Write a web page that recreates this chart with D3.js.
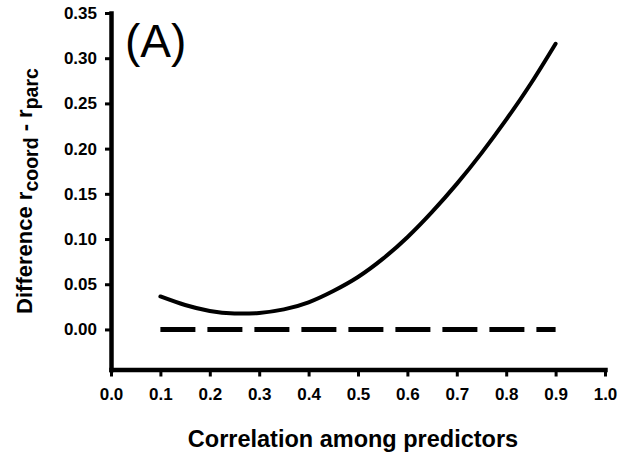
<!DOCTYPE html>
<html>
<head>
<meta charset="utf-8">
<script src="https://cdn.jsdelivr.net/npm/d3@7"></script>
<style>
  body { margin: 0; background: #fff; }
  svg { display: block; }
  text { font-family: "Liberation Sans", Arial, Helvetica, sans-serif; }
</style>
</head>
<body>
<svg id="chart" width="619" height="457"></svg>
<script>
// ---- data ----
const xValues = [0.10, 0.15, 0.20, 0.25, 0.30, 0.35, 0.40, 0.45, 0.50, 0.55, 0.60, 0.65, 0.70, 0.75, 0.80, 0.85, 0.90];
const diffValues = [0.0365, 0.027, 0.0205, 0.0177, 0.0183, 0.0222, 0.030, 0.0425, 0.058, 0.078, 0.102, 0.130, 0.161, 0.195, 0.232, 0.272, 0.316];
const refX = [0.1, 0.9];
const refValues = [0, 0];
const xTicks = [0.0, 0.1, 0.2, 0.3, 0.4, 0.5, 0.6, 0.7, 0.8, 0.9, 1.0];
const yTicks = [0.00, 0.05, 0.10, 0.15, 0.20, 0.25, 0.30, 0.35];

const svg = d3.select("#chart");

const x = d3.scaleLinear().domain([0, 1]).range([111, 605]);
const y = d3.scaleLinear().domain([-0.0443, 0.35]).range([369.5, 13]);

// X axis
const xAxis = svg.append("g")
  .attr("transform", `translate(0,${y(-0.0443)})`)
  .call(d3.axisBottom(x).tickValues(xTicks).tickFormat(d3.format(".1f")).tickSize(7).tickSizeOuter(0).tickPadding(11));
// Y axis
const yAxis = svg.append("g")
  .attr("transform", `translate(${x(0)},0)`)
  .call(d3.axisLeft(y).tickValues(yTicks).tickFormat(d3.format(".2f")).tickSize(6).tickSizeOuter(0).tickPadding(8));

[xAxis, yAxis].forEach(g => {
  g.select(".domain").attr("stroke", "#000").attr("stroke-width", 4.5).attr("stroke-linecap", "square");
  g.selectAll(".tick line").attr("stroke", "#000").attr("stroke-width", 3);
  g.selectAll(".tick text")
    .attr("fill", "#000")
    .style("font-size", "17px")
    .style("font-weight", "bold")
    .style("font-family", "'Liberation Sans', Arial, Helvetica, sans-serif");
});

// Dashed reference line
svg.append("path")
  .datum(refX.map((d, i) => [d, refValues[i]]))
  .attr("fill", "none")
  .attr("stroke", "#000")
  .attr("stroke-width", 5)
  .attr("stroke-dasharray", "35 12")
  .attr("d", d3.line().x(d => x(d[0])).y(d => y(d[1])));

// Solid curve
svg.append("path")
  .datum(xValues.map((d, i) => [d, diffValues[i]]))
  .attr("fill", "none")
  .attr("stroke", "#000")
  .attr("stroke-width", 4)
  .attr("stroke-linecap", "round")
  .attr("d", d3.line().curve(d3.curveNatural).x(d => x(d[0])).y(d => y(d[1])));

// Panel label
svg.append("text")
  .attr("x", 125)
  .attr("y", 57)
  .style("font-size", "46px")
  .style("font-weight", "normal")
  .attr("fill", "#000")
  .text("(A)");

// X title
svg.append("text")
  .attr("x", 353)
  .attr("y", 447)
  .attr("text-anchor", "middle")
  .style("font-size", "23.5px")
  .style("font-weight", "bold")
  .attr("fill", "#000")
  .text("Correlation among predictors");

// Y title
const yt = svg.append("text")
  .attr("transform", "translate(32,191) rotate(-90)")
  .attr("text-anchor", "middle")
  .style("font-size", "22px")
  .style("font-weight", "bold")
  .attr("fill", "#000");
yt.append("tspan").text("Difference r");
yt.append("tspan").attr("dy", 6).style("font-size", "19.5px").text("coord");
yt.append("tspan").attr("dy", -6).text(" - r");
yt.append("tspan").attr("dy", 6).style("font-size", "19.5px").text("parc");
</script>
</body>
</html>
